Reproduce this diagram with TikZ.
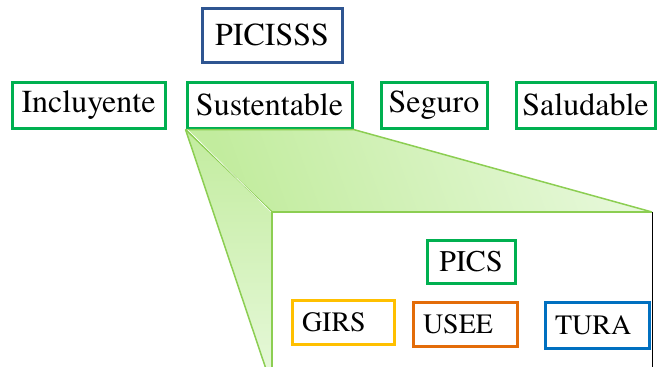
\documentclass[tikz,border=0pt]{standalone}
\usepackage{fontspec}
\setmainfont{TeX Gyre Termes}
\usetikzlibrary{positioning}

\definecolor{pgreen}{HTML}{00B050}
\definecolor{pblue}{HTML}{2E5591}
\definecolor{pyellow}{HTML}{FFC000}
\definecolor{porange}{HTML}{E36C09}
\definecolor{pcyan}{HTML}{0070C0}
\definecolor{zoomedge}{HTML}{8CCE52}
\definecolor{zoomdark}{HTML}{C2EC9E}
\definecolor{zoomlight}{HTML}{E6F8D9}

\tikzset{
    pilar/.style={draw=#1, line width=3pt, fill=white, minimum height=46pt,
        inner sep=0pt, font=\fontsize{32}{38}\selectfont},
    subpilar/.style={draw=#1, line width=3pt, fill=white, minimum height=44pt,
        inner xsep=10pt, inner ysep=0pt, align=left, font=\fontsize{28}{34}\selectfont},
    zoomface/.style={draw=zoomedge, line width=1.5pt, line join=round}
}

\begin{document}
\begin{tikzpicture}[x=1pt, y=-1pt]
    \useasboundingbox (0,0) rectangle (662,367);

    % programa general y sus ejes
    \node[pilar=pblue, minimum width=140pt, minimum height=54pt] (picisss) at (272,35) {PICISSS};
    \node[pilar=pgreen, minimum width=153pt] (incluyente) at (88.5,105) {Incluyente};
    \node[pilar=pgreen, minimum width=165pt] (sustentable) at (269.5,105) {Sustentable};
    \node[pilar=pgreen, minimum width=106pt] (seguro) at (434,105) {Seguro};
    \node[pilar=pgreen, minimum width=139pt] (saludable) at (585.5,105) {Saludable};

    % esquinas del recuadro ampliado
    \coordinate (zoomfl) at (272,212);
    \coordinate (zoomfr) at (652,212);
    \coordinate (zoombl) at (272,375);
    \coordinate (zoomtip) at (268,375);

    % caras verdes de la ampliacion
    \fill[left color=zoomdark, right color=zoomlight, shading angle=110]
        (sustentable.south west) -- (sustentable.south east) -- (zoomfr) -- (zoomfl) -- cycle;
    \fill[top color=zoomdark, bottom color=zoomlight]
        (sustentable.south west) -- (zoomfl) -- (zoombl) -- (zoomtip) -- cycle;
    \draw[zoomface] (sustentable.south west) -- (sustentable.south east) -- (zoomfr);
    \draw[zoomface] (sustentable.south west) -- (zoomtip);
    \draw[zoomface] (sustentable.south west) -- (zoomfl);
    \draw[white, line width=0.6pt] ([xshift=2pt]sustentable.south west) -- ([xshift=1pt,yshift=-2pt]zoomfl);

    % recuadro ampliado
    \draw[fill=white, line width=1pt] (zoomfl) rectangle (zoomfr |- zoombl);
    \draw[zoomface] (zoomfr) -- (zoomfl) -- (zoombl);

    % ejes del programa sustentable
    \node[pilar=pgreen, minimum width=88pt, minimum height=43pt,
        font=\fontsize{30}{36}\selectfont] (pics) at (471,261.5) {PICS};
    \node[subpilar=pyellow, text width=82pt] (girs) at (343,322) {GIRS};
    \node[subpilar=porange, text width=84pt] (usee) at (465,324) {USEE};
    \node[subpilar=pcyan, text width=84pt, minimum height=46pt] (tura) at (597,325) {TURA};

\end{tikzpicture}
\end{document}
